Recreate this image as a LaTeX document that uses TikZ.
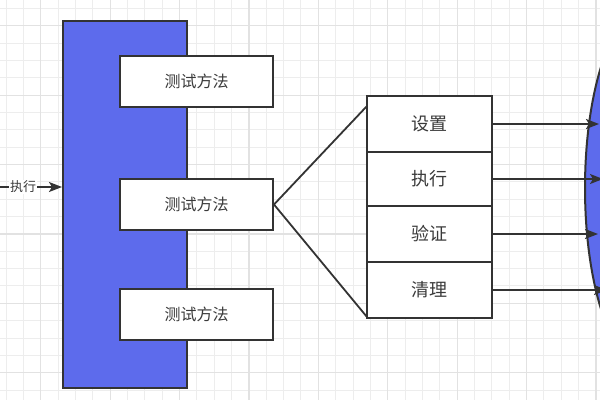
\documentclass[tikz,border=0pt]{standalone}
\usepackage{fontspec}
\newfontfamily\cjk{Noto Sans CJK SC}
\usetikzlibrary{arrows.meta,shapes.geometric}
\definecolor{gridminor}{HTML}{EDEDED}
\definecolor{gridmajor}{HTML}{E2E2E2}
\definecolor{linegray}{HTML}{333333}
\definecolor{txtgray}{HTML}{3A3A3A}
\definecolor{bluefill}{HTML}{5D6BEC}
\tikzset{
  minorline/.style={draw=gridminor,line width=1pt},
  majorline/.style={draw=gridmajor,line width=1.2pt},
  methodbox/.style={draw=linegray,fill=white,line width=2pt,minimum width=153pt,minimum height=51pt,inner sep=0pt,font=\cjk\fontsize{16}{18}\selectfont,text=txtgray},
  stagebox/.style={draw=linegray,fill=white,line width=2pt,minimum width=125pt,inner sep=0pt,font=\cjk\fontsize{18}{20}\selectfont,text=txtgray},
  bluebar/.style={draw=linegray,fill=bluefill,line width=2pt,inner sep=0pt},
  conn/.style={draw=linegray,line width=1.8pt},
  arr/.style={conn,-{Stealth[length=13pt,width=10pt,inset=3pt]}},
  smalllabel/.style={font=\cjk\fontsize{13}{15}\selectfont,text=txtgray,inner sep=1pt}
}
\begin{document}
\begin{tikzpicture}[x=1pt,y=1pt]
\clip (0,0) rectangle (600,-400);
\fill[white] (0,0) rectangle (600,-400);
% grid
\foreach \i in {0,...,34} {\draw[minorline] ({6.0+17.35*\i},0) -- ++(0,-400);}
\foreach \i in {0,...,23} {\draw[minorline] (0,{-8.35-17.35*\i}) -- ++(600,0);}
\foreach \i in {0,...,8} {\draw[majorline] ({40.7+69.4*\i},0) -- ++(0,-400);}
\foreach \i in {0,...,5} {\draw[majorline] (0,{-25.7-69.4*\i}) -- ++(600,0);}
% blue bar
\node[bluebar,minimum width=124pt,minimum height=367pt] (bar) at (125,-204.5) {};
% method boxes
\node[methodbox] (m1) at (196.5,-81.5) {测试方法};
\node[methodbox] (m2) at (196.5,-204.5) {测试方法};
\node[methodbox] (m3) at (196.5,-314.5) {测试方法};
% stage boxes
\node[stagebox,minimum height=56pt] (s1) at (429.5,-124) {设置};
\node[stagebox,minimum height=54pt] (s2) at (429.5,-179) {执行};
\node[stagebox,minimum height=56pt] (s3) at (429.5,-234) {验证};
\node[stagebox,minimum height=56pt] (s4) at (429.5,-290) {清理};
% target ellipse
\node[ellipse,draw=linegray,fill=bluefill,line width=2pt,minimum width=120pt,minimum height=356pt,inner sep=0pt] (tgt) at (645,-188) {};
% fan
\coordinate (fanTop) at (367,-106);
\coordinate (fanBot) at (367,-317);
\draw[conn] (fanTop) -- (m2.east) -- (fanBot);
% arrows to ellipse
\coordinate (t1) at (599,-124);
\coordinate (t2) at (603,-179);
\coordinate (t3) at (598,-234);
\coordinate (t4) at (607,-290);
\draw[arr] (s1.east) -- (t1);
\draw[arr] (s2.east) -- (t2);
\draw[arr] (s3.east) -- (t3);
\draw[arr] (s4.east) -- (t4);
% input
\coordinate (inStart) at (-2,-187);
\node[smalllabel,fill=white] (lbl) at (23,-187) {执行};
\draw[conn] (inStart) -- (lbl.west);
\draw[arr] (lbl.east) -- (bar.west |- lbl.east);
\end{tikzpicture}
\end{document}
